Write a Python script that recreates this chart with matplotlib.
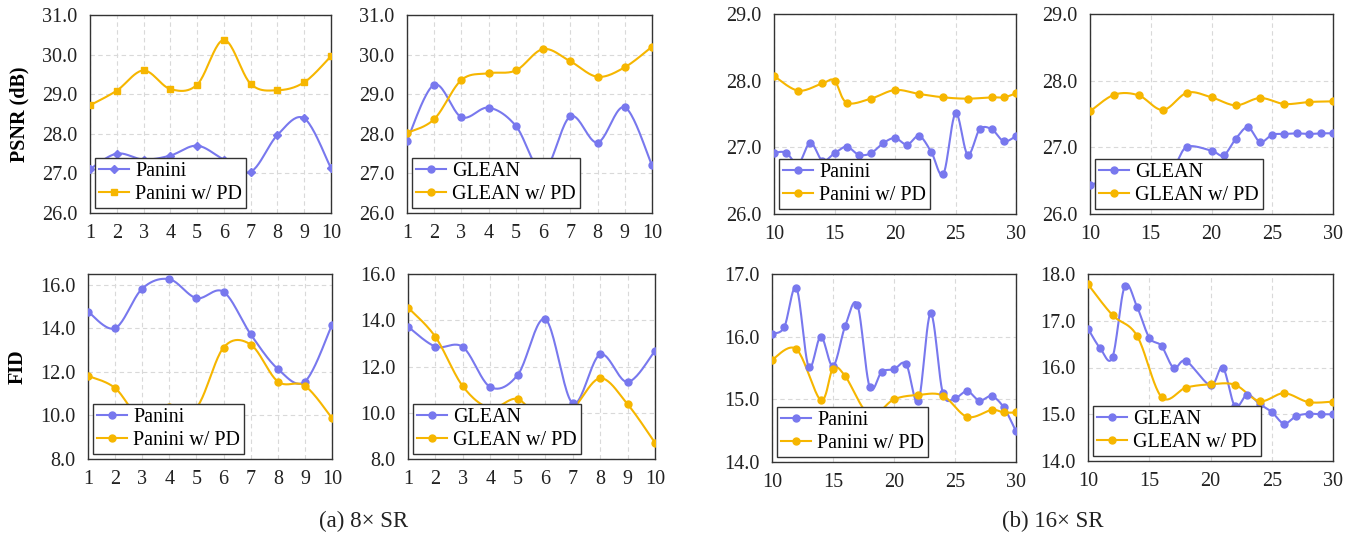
import numpy as np
import matplotlib
matplotlib.use('Agg')
import matplotlib.pyplot as plt
from matplotlib.lines import Line2D

plt.rcParams['font.family'] = ['Liberation Serif', 'DejaVu Serif']

BLUE = '#7878ee'
GOLD = '#f6b600'

# 8x SR, x = 1..10
x8 = [1, 2, 3, 4, 5, 6, 7, 8, 9, 10]
psnr8_panini = [27.11, 27.50, 27.35, 27.45, 27.70, 27.35, 27.04, 27.97, 28.39, 27.13]
psnr8_panini_pd = [28.72, 29.09, 29.60, 29.13, 29.24, 30.37, 29.26, 29.10, 29.30, 29.96]
psnr8_glean = [27.83, 29.24, 28.42, 28.66, 28.20, 27.05, 28.44, 27.78, 28.67, 27.20]
psnr8_glean_pd = [28.02, 28.37, 29.36, 29.53, 29.60, 30.14, 29.83, 29.44, 29.68, 30.20]
fid8_panini = [14.77, 14.01, 15.83, 16.26, 15.39, 15.68, 13.73, 12.14, 11.56, 14.16]
fid8_panini_pd = [11.82, 11.26, 9.80, 10.39, 10.36, 13.12, 13.26, 11.56, 11.36, 9.88]
fid8_glean = [13.72, 12.86, 12.84, 11.11, 11.64, 14.05, 10.41, 12.52, 11.33, 12.68]
fid8_glean_pd = [14.55, 13.28, 11.14, 10.20, 10.59, 9.50, 10.17, 11.49, 10.37, 8.70]

# 16x SR
x16_panini = list(range(10, 31))
x16_panini_pd = [10, 12, 14, 15, 16, 18, 20, 22, 24, 26, 28, 29, 30]
x16_glean = [10, 11, 12, 13, 14, 15, 16, 17, 18, 20, 21, 22, 23, 24, 25, 26, 27, 28, 29, 30]
x16_glean_pd = [10, 12, 14, 16, 18, 20, 22, 24, 26, 28, 30]

psnr16_panini = [26.92, 26.92, 26.75, 27.07, 26.80, 26.91, 27.01, 26.89, 26.91, 27.06, 27.14,
                 27.04, 27.17, 26.93, 26.60, 27.51, 26.89, 27.27, 27.27, 27.09, 27.17]
psnr16_panini_pd = [28.07, 27.85, 27.96, 28.00, 27.67, 27.73, 27.86, 27.80, 27.75, 27.73, 27.75, 27.75, 27.81]
psnr16_glean = [26.43, 26.50, 26.60, 26.55, 26.70, 26.65, 26.75, 26.75, 27.01, 26.95,
                26.88, 27.13, 27.30, 27.08, 27.19, 27.20, 27.21, 27.20, 27.21, 27.21]
psnr16_glean_pd = [27.54, 27.79, 27.78, 27.56, 27.82, 27.75, 27.63, 27.74, 27.65, 27.68, 27.69]
fid16_panini = [16.05, 16.15, 16.78, 15.52, 16.00, 15.53, 16.17, 16.51, 15.20, 15.44, 15.48,
                15.56, 14.97, 16.37, 15.10, 15.02, 15.13, 14.98, 15.05, 14.87, 14.49]
fid16_panini_pd = [15.63, 15.80, 14.99, 15.49, 15.37, 14.75, 15.00, 15.07, 15.06, 14.72, 14.83, 14.79, 14.79]
fid16_glean = [16.83, 16.41, 16.22, 17.74, 17.30, 16.64, 16.46, 15.99, 16.14, 15.62,
               16.00, 15.17, 15.42, 15.22, 15.05, 14.80, 14.96, 15.01, 15.00, 15.00]
fid16_glean_pd = [17.78, 17.12, 16.68, 15.37, 15.57, 15.64, 15.63, 15.28, 15.45, 15.26, 15.27]

W, H = 1356, 536


def smooth(x, y, n=24):
    # excel-style smoothed line through the points
    p = np.column_stack([x, y]).astype(float)
    segs = []
    t = np.linspace(0, 1, n)[:, None]
    for i in range(len(p) - 1):
        p0 = p[i - 1] if i > 0 else p[i]
        p3 = p[i + 2] if i + 2 < len(p) else p[i + 1]
        c1 = p[i] + (p[i + 1] - p0) / 6
        c2 = p[i + 1] - (p3 - p[i]) / 6
        seg = (1 - t) ** 3 * p[i] + 3 * (1 - t) ** 2 * t * c1 + 3 * (1 - t) * t ** 2 * c2 + t ** 3 * p[i + 1]
        segs.append(seg if i == 0 else seg[1:])
    s = np.vstack(segs)
    return s[:, 0], s[:, 1]


def panel(box, series, ylim, ystep, xlim, xticks, ylabel=None):
    l, r, t, b = box
    ax = fig.add_axes([l / W, 1 - b / H, (r - l) / W, (b - t) / H])
    handles = []
    for x, y, c, m, lab in series:
        ms = 5 if m == 'o' else 4.5
        xs, ys = smooth(x, y)
        ax.plot(xs, ys, color=c, lw=1.5, zorder=3)
        ax.plot(x, y, ls='none', marker=m, color=c, ms=ms, zorder=4)
        handles.append(Line2D([], [], color=c, lw=1.5, marker=m, ms=ms, label=lab))
    ax.set_xlim(*xlim)
    ax.set_ylim(*ylim)
    ax.set_xticks(xticks)
    ax.set_yticks(np.arange(ylim[0], ylim[1] + 1e-6, ystep))
    ax.yaxis.set_major_formatter(matplotlib.ticker.FormatStrFormatter('%.1f'))
    ax.grid(True, color='#d9d9d9', ls=(0, (4, 3)), lw=0.8, zorder=0)
    ax.tick_params(length=0, labelsize=14.5, colors='#222222')
    ax.tick_params(axis='x', pad=8)
    ax.tick_params(axis='y', pad=9)
    for sp in ax.spines.values():
        sp.set_color('#333333')
        sp.set_linewidth(1.0)
    leg = ax.legend(handles=handles, loc='lower left', fontsize=14.5, frameon=True, fancybox=False,
                    borderaxespad=0.25, handlelength=1.5, borderpad=0.2, labelspacing=0.2,
                    handletextpad=0.3)
    leg.get_frame().set_edgecolor('#333333')
    leg.get_frame().set_linewidth(1.0)
    leg.get_frame().set_alpha(1)
    leg.set_zorder(10)
    if ylabel:
        ax.set_ylabel(ylabel, fontsize=14.5, fontweight='bold', labelpad=9)
    return ax


fig = plt.figure(figsize=(W / 100, H / 100), dpi=100)

panel((90, 331, 15, 213),
      [(x8, psnr8_panini, BLUE, 'D', 'Panini'), (x8, psnr8_panini_pd, GOLD, 's', 'Panini w/ PD')],
      (26, 31), 1.0, (1, 10), x8, 'PSNR (dB)')
panel((407, 652, 15, 213),
      [(x8, psnr8_glean, BLUE, 'o', 'GLEAN'), (x8, psnr8_glean_pd, GOLD, 'o', 'GLEAN w/ PD')],
      (26, 31), 1.0, (1, 10), x8)
panel((88, 332, 274, 459),
      [(x8, fid8_panini, BLUE, 'o', 'Panini'), (x8, fid8_panini_pd, GOLD, 'o', 'Panini w/ PD')],
      (8, 16.5), 2.0, (1, 10), x8, 'FID')
panel((408, 655, 274, 459),
      [(x8, fid8_glean, BLUE, 'o', 'GLEAN'), (x8, fid8_glean_pd, GOLD, 'o', 'GLEAN w/ PD')],
      (8, 16), 2.0, (1, 10), x8)

ticks16 = [10, 15, 20, 25, 30]
panel((774, 1016, 14, 214),
      [(x16_panini, psnr16_panini, BLUE, 'o', 'Panini'), (x16_panini_pd, psnr16_panini_pd, GOLD, 'o', 'Panini w/ PD')],
      (26, 29), 1.0, (10, 30), ticks16)
panel((1090, 1333, 14, 214),
      [(x16_glean, psnr16_glean, BLUE, 'o', 'GLEAN'), (x16_glean_pd, psnr16_glean_pd, GOLD, 'o', 'GLEAN w/ PD')],
      (26, 29), 1.0, (10, 30), ticks16)
panel((772, 1016, 274, 462),
      [(x16_panini, fid16_panini, BLUE, 'o', 'Panini'), (x16_panini_pd, fid16_panini_pd, GOLD, 'o', 'Panini w/ PD')],
      (14, 17), 1.0, (10, 30), ticks16)
panel((1088, 1333, 274, 461),
      [(x16_glean, fid16_glean, BLUE, 'o', 'GLEAN'), (x16_glean_pd, fid16_glean_pd, GOLD, 'o', 'GLEAN w/ PD')],
      (14, 18), 1.0, (10, 30), ticks16)

fig.text(364 / W, 1 - 521 / H, '(a) 8× SR', ha='center', va='center', fontsize=16.5, color='#222222')
fig.text(1053 / W, 1 - 521 / H, '(b) 16× SR', ha='center', va='center', fontsize=16.5, color='#222222')

fig.savefig('out.png', dpi=100)
